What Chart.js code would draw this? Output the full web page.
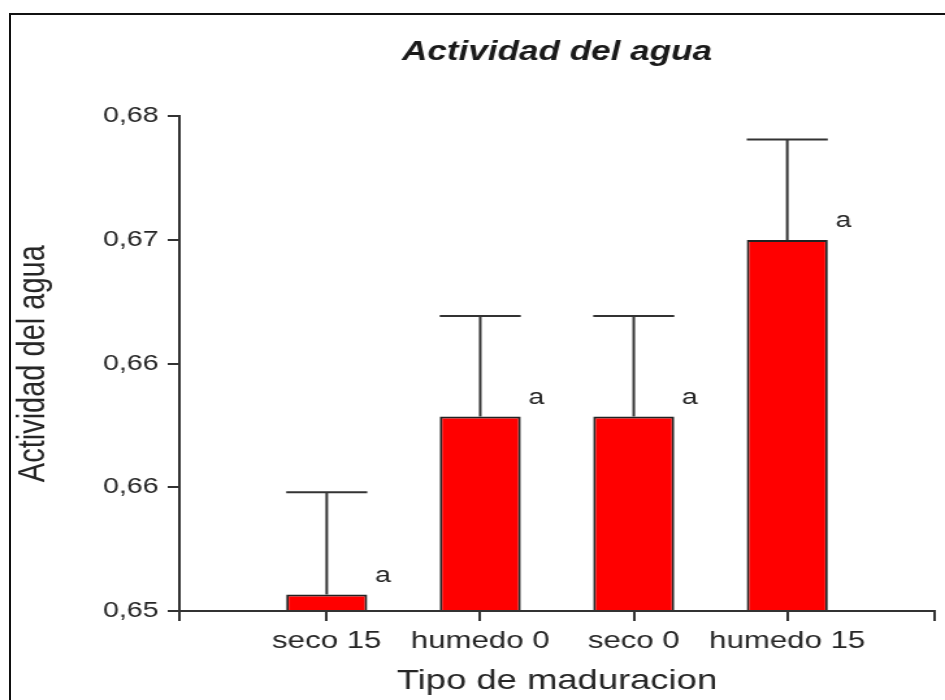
<!DOCTYPE html>
<html lang="es">
<head>
    <meta charset="UTF-8">
    <title>Actividad del agua</title>
    <script src="https://cdn.jsdelivr.net/npm/chart.js"></script>
    <style>
        body {
            margin: 0;
            background: #ffffff;
            font-family: 'Liberation Sans', Arial, sans-serif;
        }

        .wrap {
            position: relative;
            width: 945px;
            height: 700px;
            overflow: hidden;
        }

        .frame {
            position: absolute;
            left: 9px;
            top: 13px;
            width: 960px;
            height: 720px;
            border-left: 2px solid #111;
            border-top: 2px solid #111;
        }

        #chart {
            position: absolute;
            left: 0;
            top: 0;
        }
    </style>
</head>
<body>
    <div class="wrap">
        <div class="frame"></div>
        <!-- the original picture is stretched sideways, so the canvas is drawn narrow and shown at full width -->
        <canvas id="chart" width="727" height="700" style="width:945px;height:700px"></canvas>
    </div>

    <script>
        // data
        var categories = ['seco 15', 'humedo 0', 'seco 0', 'humedo 15'];
        var means = [0.6510, 0.6618, 0.6618, 0.6725];
        var errTops = [0.6572, 0.6679, 0.6679, 0.6786];
        var letters = ['a', 'a', 'a', 'a'];
        var yTicks = [0.65, 0.6575, 0.665, 0.6725, 0.68];
        var yTickLabels = ['0,65', '0,66', '0,66', '0,67', '0,68'];

        var xMin = -0.96;
        var xMax = 3.96;
        var ink = '#262626';
        var fontFam = '"Liberation Sans", Arial, sans-serif';

        // error bars + significance letters
        var errorBarPlugin = {
            id: 'errorBars',
            afterDatasetsDraw: function(chart) {
                var ctx = chart.ctx;
                var meta = chart.getDatasetMeta(0);
                var yScale = chart.scales.y;
                ctx.save();
                meta.data.forEach(function(bar, i) {
                    var half = bar.width / 2;
                    var yTop = yScale.getPixelForValue(errTops[i]);
                    ctx.strokeStyle = '#333';
                    ctx.lineWidth = 2;
                    ctx.beginPath();
                    ctx.moveTo(bar.x, bar.y);
                    ctx.lineTo(bar.x, yTop);
                    ctx.moveTo(bar.x - half, yTop);
                    ctx.lineTo(bar.x + half, yTop);
                    ctx.stroke();

                    ctx.fillStyle = ink;
                    ctx.font = '22px ' + fontFam;
                    ctx.textAlign = 'center';
                    ctx.textBaseline = 'middle';
                    ctx.fillText(letters[i], bar.x + half + 12, bar.y - 19);
                });
                ctx.restore();
            }
        };

        var config = {
            type: 'bar',
            data: {
                datasets: [{
                    data: categories.map(function(c, i) { return { x: i, y: means[i] }; }),
                    base: 0.65,
                    backgroundColor: '#ff0000',
                    borderColor: '#222',
                    borderWidth: 2,
                    barPercentage: 0.55,
                    categoryPercentage: 1
                }]
            },
            options: {
                responsive: false,
                animation: false,
                events: [],
                layout: {
                    padding: { left: 0, right: 8, top: 0, bottom: 0 }
                },
                plugins: {
                    legend: { display: false },
                    tooltip: { enabled: false },
                    title: {
                        display: true,
                        fullSize: false,
                        text: 'Actividad del agua',
                        color: '#1a1a1a',
                        font: { family: fontFam, size: 27, weight: 'bold', style: 'italic' },
                        padding: { top: 36, bottom: 48 }
                    }
                },
                scales: {
                    x: {
                        type: 'linear',
                        min: xMin,
                        max: xMax,
                        offset: false,
                        afterBuildTicks: function(scale) {
                            var vals = [xMin].concat(categories.map(function(c, i) { return i; }), [xMax]);
                            scale.ticks = vals.map(function(v) { return { value: v }; });
                        },
                        afterFit: function(scale) { scale.height = 89; },
                        ticks: {
                            autoSkip: false,
                            maxRotation: 0,
                            color: ink,
                            padding: 6,
                            font: { family: fontFam, size: 24 },
                            callback: function(v) {
                                return Number.isInteger(v) && categories[v] !== undefined ? categories[v] : '';
                            }
                        },
                        grid: {
                            display: true,
                            offset: false,
                            drawOnChartArea: false,
                            drawTicks: true,
                            tickLength: 10,
                            color: '#333',
                            lineWidth: 2
                        },
                        border: { display: true, color: '#333', width: 2 },
                        title: {
                            display: true,
                            text: 'Tipo de maduracion',
                            color: ink,
                            font: { family: fontFam, size: 28 },
                            padding: { top: 2, bottom: 2 }
                        }
                    },
                    y: {
                        min: 0.65,
                        max: 0.68,
                        afterBuildTicks: function(scale) {
                            scale.ticks = yTicks.map(function(v) { return { value: v }; });
                        },
                        afterFit: function(scale) { scale.width = 138; },
                        ticks: {
                            color: ink,
                            padding: 7,
                            font: { family: fontFam, size: 22 },
                            callback: function(v, i) { return yTickLabels[i]; }
                        },
                        grid: {
                            display: true,
                            drawOnChartArea: false,
                            drawTicks: true,
                            tickLength: 9,
                            color: '#333',
                            lineWidth: 2
                        },
                        border: { display: true, color: '#333', width: 2 },
                        title: {
                            display: true,
                            text: 'Actividad del agua',
                            color: ink,
                            font: { family: fontFam, size: 29 },
                            padding: { top: 9, bottom: 0 }
                        }
                    }
                }
            },
            plugins: [errorBarPlugin]
        };

        var ctx = document.getElementById('chart').getContext('2d');
        window.myChart = new Chart(ctx, config);
    </script>
</body>
</html>
